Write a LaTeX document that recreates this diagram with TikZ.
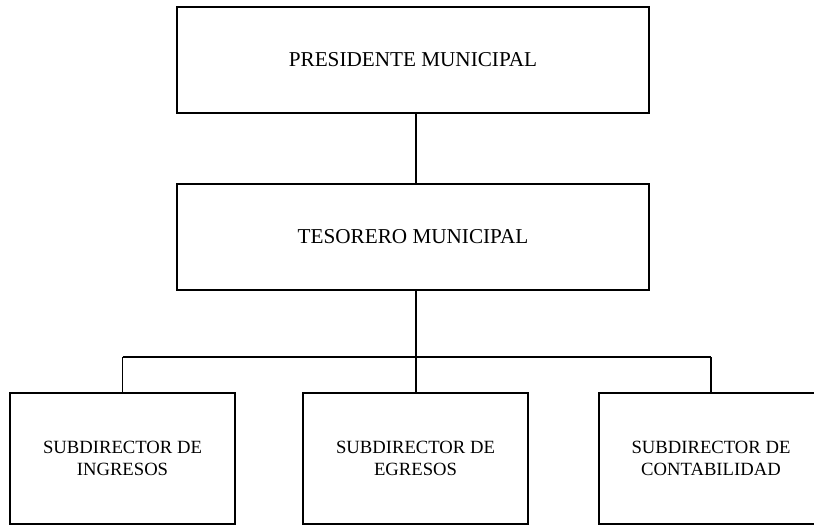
\documentclass[tikz,border=0pt]{standalone}
\usepackage{fontspec}
\setmainfont{Liberation Serif}
\begin{document}
\begin{tikzpicture}[x=0.75pt,y=-0.75pt,
  topbox/.style={draw,line width=1.5pt,minimum width=354pt,minimum height=79.5pt,inner sep=0pt,
    font=\fontsize{15.9}{19}\selectfont},
  subbox/.style={draw,line width=1.5pt,minimum width=168.75pt,minimum height=98.25pt,inner sep=0pt,
    align=center,font=\fontsize{14}{16.3}\selectfont},
  link/.style={line width=1.4pt}]
\useasboundingbox (0,0) rectangle (814,525);
\clip (0,0) rectangle (814,525);
\node[topbox] (p) at (413,60) {PRESIDENTE MUNICIPAL};
\node[topbox] (t) at (413,237) {TESORERO MUNICIPAL};
\node[subbox] (s1) at (122.5,458.5) {SUBDIRECTOR DE\\INGRESOS};
\node[subbox] (s2) at (415.5,458.5) {SUBDIRECTOR DE\\EGRESOS};
\node[subbox] (s3) at (711,458.5) {SUBDIRECTOR DE\\CONTABILIDAD};
\coordinate (bus) at (416,357);
\draw[link] (p.south -| bus) -- (t.north -| bus);
\draw[link] (t.south -| bus) -- (bus);
\draw[link] (s1.north |- bus) -- (s3.north |- bus);
\draw[link] (s1.north |- bus) -- (s1.north);
\draw[link] (bus) -- (s2.north -| bus);
\draw[link] (s3.north |- bus) -- (s3.north);
\end{tikzpicture}
\end{document}
